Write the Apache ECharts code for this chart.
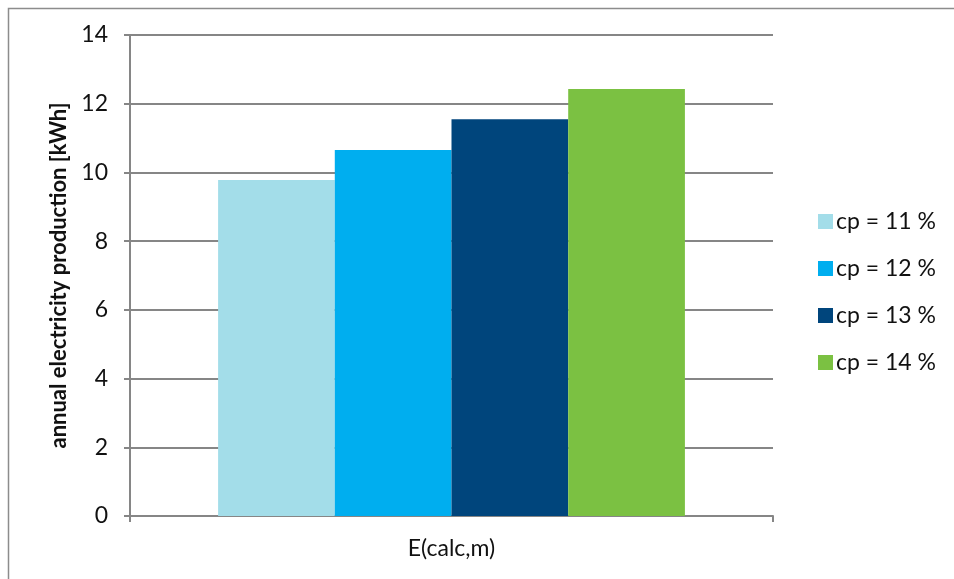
<!DOCTYPE html>
<html>
<head>
<meta charset="utf-8">
<style>
html,body{margin:0;padding:0;background:#fff;}
#chart{width:954px;height:579px;}
</style>
<script src="https://cdn.jsdelivr.net/npm/echarts@6/dist/echarts.min.js"></script>
</head>
<body>
<div id="chart"></div>
<script>
const categories = ['E(calc,m)'];
const seriesNames = ['cp = 11 %', 'cp = 12 %', 'cp = 13 %', 'cp = 14 %'];
const cp11 = [9.78];
const cp12 = [10.65];
const cp13 = [11.55];
const cp14 = [12.43];
const colors = ['#A3DDE9', '#00AEEF', '#00457C', '#7BC142'];
const yTicks = [0, 2, 4, 6, 8, 10, 12, 14];
const yTitle = 'annual electricity production [kWh]';

const values = [cp11, cp12, cp13, cp14];
const font = 'Lato, sans-serif';
const chart = echarts.init(document.getElementById('chart'));
chart.setOption({
  animation: false,
  textStyle: { fontFamily: font },
  graphic: [{
    type: 'rect', left: 6, top: 6,
    shape: { width: 980, height: 620 },
    style: { fill: 'none', stroke: '#8c8c8c', lineWidth: 1.5 },
    silent: true
  }],
  grid: { left: 130, right: 181, top: 35, bottom: 63, containLabel: false },
  legend: {
    orient: 'vertical',
    left: 813, top: 205,
    itemWidth: 15, itemHeight: 15, itemGap: 24,
    icon: 'rect',
    data: seriesNames,
    textStyle: { fontSize: 23, color: '#111', fontFamily: font, padding: [0,0,0,-2] }
  },
  xAxis: {
    type: 'category',
    data: categories,
    axisLine: { lineStyle: { color: '#868686', width: 2 } },
    axisTick: { show: true, length: 6, alignWithLabel: false, lineStyle: { color: '#868686', width: 2 } },
    axisLabel: { fontSize: 23, color: '#111', margin: 21, fontFamily: font },
    splitLine: { show: false }
  },
  yAxis: {
    type: 'value',
    min: yTicks[0], max: yTicks[yTicks.length - 1], interval: 2,
    name: yTitle,
    nameLocation: 'middle',
    nameGap: 60,
    nameTextStyle: { fontSize: 22, fontWeight: 'bold', color: '#111', fontFamily: font },
    axisLine: { show: true, lineStyle: { color: '#868686', width: 2 } },
    axisTick: { show: true, length: 6, inside: false, lineStyle: { color: '#868686', width: 2 } },
    axisLabel: { fontSize: 23, color: '#111', margin: 22, fontFamily: font },
    splitLine: { show: true, lineStyle: { color: '#868686', width: 2 } }
  },
  series: seriesNames.map((n, i) => ({
    name: n,
    type: 'bar',
    data: values[i],
    barGap: '0%',
    barCategoryGap: '27.4%',
    itemStyle: { color: colors[i] }
  }))
});
</script>
</body>
</html>
